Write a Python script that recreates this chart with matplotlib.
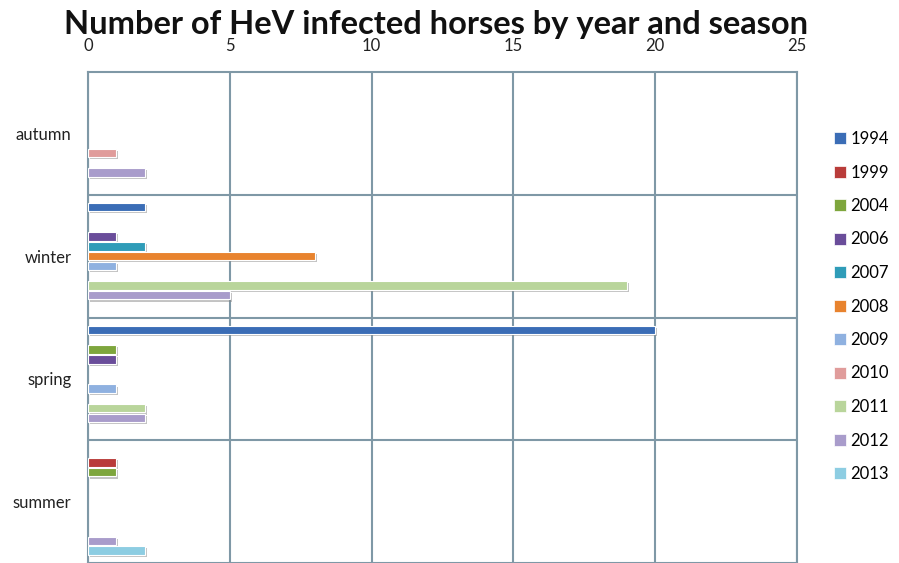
import matplotlib
matplotlib.use("Agg")
import matplotlib.pyplot as plt
import matplotlib.patheffects as pe
from matplotlib.patches import Patch
import numpy as np

seasons = ["autumn", "winter", "spring", "summer"]
years = ["1994", "1999", "2004", "2006", "2007", "2008", "2009", "2010", "2011", "2012", "2013"]
v1994 = [0, 2, 20, 0]
v1999 = [0, 0, 0, 1]
v2004 = [0, 0, 1, 1]
v2006 = [0, 1, 1, 0]
v2007 = [0, 2, 0, 0]
v2008 = [0, 8, 0, 0]
v2009 = [0, 1, 1, 0]
v2010 = [1, 0, 0, 0]
v2011 = [0, 19, 2, 0]
v2012 = [2, 5, 2, 1]
v2013 = [0, 0, 0, 2]
series = [v1994, v1999, v2004, v2006, v2007, v2008, v2009, v2010, v2011, v2012, v2013]
colors = ["#3b6db6", "#b93c3a", "#7ea63d", "#6a4d9a", "#2f9cb8", "#e8832e",
          "#8fb1e0", "#e09c9b", "#b9d59b", "#a99ccb", "#8dcde2"]

plt.rcParams['font.family'] = ['Lato', 'DejaVu Sans']
fig = plt.figure(figsize=(8.99, 5.63), dpi=100)
W, H = 899, 563
ax = fig.add_axes([88 / W, 0.0, (797 - 88) / W, (563 - 72) / H])

n = len(years)
b = 0.0797
off = (1 - n * b) / 2
shadow = [pe.SimplePatchShadow(offset=(1.5, -1.5), shadow_rgbFace="#888888", alpha=0.5), pe.Normal()]
handles = []
for i, (vals, col, yr) in enumerate(zip(series, colors, years)):
    ys = np.arange(len(seasons)) + off + b * (i + 0.5)
    bars = ax.barh(ys, vals, height=b * 0.86, color=col, edgecolor="white",
                   linewidth=0.8, zorder=3)
    for p, v in zip(bars, vals):
        if v > 0:
            p.set_path_effects(shadow)
        else:
            p.set_visible(False)
    handles.append(Patch(facecolor=col, edgecolor="white", linewidth=0.5, label=yr))

ax.set_ylim(4, 0)
ax.set_xlim(0, 25)
ax.set_xticks([0, 5, 10, 15, 20, 25])
ax.xaxis.tick_top()
ax.set_yticks(np.arange(len(seasons)) + 0.5)
ax.set_yticklabels(seasons)
ax.set_yticks([1, 2, 3], minor=True)
ax.tick_params(axis='x', length=0, pad=13, labelsize=12, labelcolor="#222222")
ax.tick_params(axis='y', which='both', length=0, pad=12, labelsize=12, labelcolor="#222222")
ax.grid(axis='x', which='major', color="#7f98a6", linewidth=1.5, zorder=1)
ax.grid(axis='y', which='minor', color="#7f98a6", linewidth=1.5, zorder=1)
for s in ax.spines.values():
    s.set_color("#7f98a6")
    s.set_linewidth(1.5)

fig.suptitle("Number of HeV infected horses by year and season", x=436 / W, y=0.982,
             fontsize=23.5, fontweight='bold', color="#111111")

fig.legend(handles=handles, loc='upper left', bbox_to_anchor=(834 / W, 1 - 131 / H), frameon=False,
           fontsize=12, handlelength=0.7, handleheight=0.7, handletextpad=0.3,
           labelspacing=1.05, borderaxespad=0, borderpad=0)

fig.savefig("out.png", dpi=100)
